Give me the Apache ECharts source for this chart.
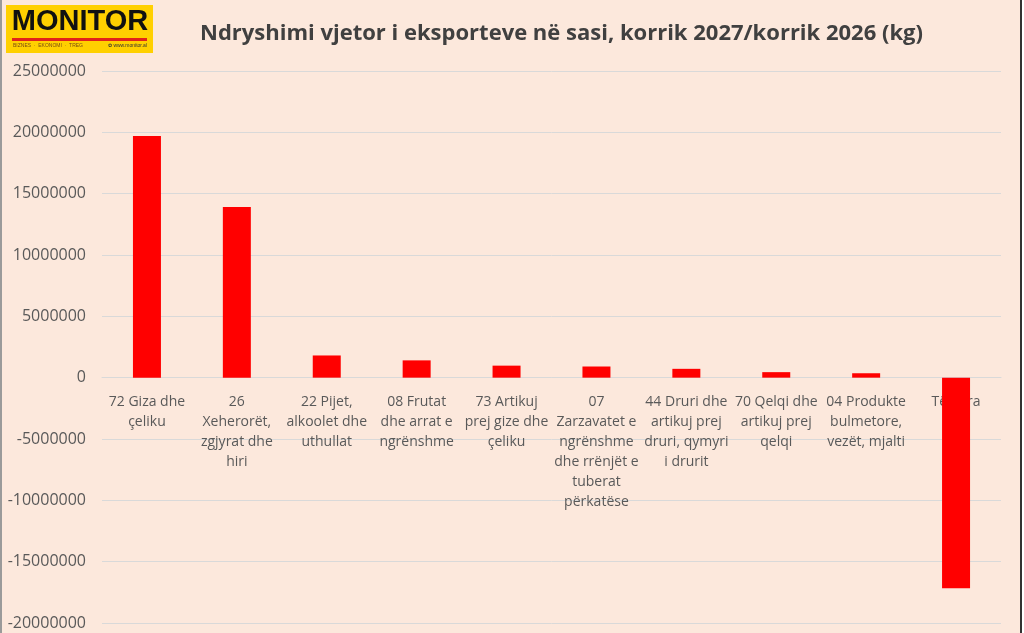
<!DOCTYPE html>
<html>
<head>
<meta charset="utf-8">
<script src="https://cdn.jsdelivr.net/npm/echarts@6/dist/echarts.min.js"></script>
<style>
  html, body { margin: 0; padding: 0; background: #ffffff; }
  #frame { position: absolute; left: 0; top: 0; width: 1018px; height: 633px; background: #FCE8DC; border-left: 2px solid #9a9a9a; border-right: 2px solid #333333; }
  #chart { position: absolute; left: 0; top: 0; width: 1024px; height: 633px; }
</style>
</head>
<body>
<div id="frame"></div>
<div id="chart"></div>
<script>
const categories = [
  "72 Giza dhe\nçeliku",
  "26\nXeherorët,\nzgjyrat dhe\nhiri",
  "22 Pijet,\nalkoolet dhe\nuthullat",
  "08 Frutat\ndhe arrat e\nngrënshme",
  "73 Artikuj\nprej gize dhe\nçeliku",
  "07\nZarzavatet e\nngrënshme\ndhe rrënjët e\ntuberat\npërkatëse",
  "44 Druri dhe\nartikuj prej\ndruri, qymyri\ni drurit",
  "70 Qelqi dhe\nartikuj prej\nqelqi",
  "04 Produkte\nbulmetore,\nvezët, mjalti",
  "Të tjera"
];
const values = [19710000, 13910000, 1810000, 1410000, 980000, 910000, 720000, 450000, 360000, -17170000];
const titleText = "Ndryshimi vjetor i eksporteve në sasi, korrik 2027/korrik 2026 (kg)";
const yMin = -20000000, yMax = 25000000, yStep = 5000000;

const gridTop = 71, gridBottom = 10, H = 633;
const plotH = H - gridTop - gridBottom;
const zeroOffset = -plotH * (0 - yMin) / (yMax - yMin);

const chart = echarts.init(document.getElementById('chart'), null, { renderer: 'canvas' });
chart.setOption({
  backgroundColor: 'transparent',
  animation: false,
  title: {
    text: titleText,
    left: 195,
    top: 18,
    textStyle: { fontFamily: 'Open Sans', fontWeight: 'bold', fontSize: 22, color: '#404040' }
  },
  grid: { left: 102, right: 23, top: gridTop, bottom: gridBottom, containLabel: false, outerBoundsMode: 'none' },
  xAxis: {
    type: 'category',
    data: categories,
    position: 'bottom',
    offset: zeroOffset,
    axisLine: { onZero: false, lineStyle: { color: '#D9D9D9', width: 1 } },
    axisTick: { show: false },
    axisLabel: {
      interval: 0,
      margin: 14,
      color: '#595959',
      fontFamily: 'Open Sans',
      fontSize: 14,
      lineHeight: 20,
      align: 'center'
    },
    z: 1
  },
  yAxis: {
    type: 'value',
    min: yMin,
    max: yMax,
    interval: yStep,
    axisLine: { show: false },
    axisTick: { show: false },
    splitLine: { lineStyle: { color: '#D9D9D9', width: 1 } },
    axisLabel: {
      margin: 16,
      color: '#595959',
      fontFamily: 'Open Sans',
      fontSize: 16,
      formatter: function (v) { return String(v); }
    }
  },
  series: [{
    type: 'bar',
    data: values,
    barWidth: 28,
    itemStyle: { color: '#FF0000' },
    z: 5
  }],
  graphic: [
    { type: 'rect', shape: { x: 6, y: 5, width: 147, height: 48 }, style: { fill: '#FFD000' }, z: 10 },
    { type: 'text', x: 80, y: 7, style: { text: 'MONITOR', fontFamily: 'Liberation Sans', fontWeight: 'bold', fontSize: 29, fill: '#111111', textAlign: 'center', textVerticalAlign: 'top' }, z: 11 },
    { type: 'rect', shape: { x: 12, y: 38, width: 135, height: 3 }, style: { fill: '#E2231A' }, z: 11 },
    { type: 'text', x: 13, y: 43, style: { text: 'BIZNES  ·  EKONOMI  ·  TREG', fontFamily: 'Liberation Sans', fontSize: 5, fill: '#7a4a10', textVerticalAlign: 'top' }, z: 11 },
    { type: 'text', x: 147, y: 43, style: { text: '✿ www.monitor.al', fontFamily: 'Liberation Sans', fontSize: 5, fill: '#333333', textAlign: 'right', textVerticalAlign: 'top' }, z: 11 }
  ]
});
</script>
</body>
</html>
